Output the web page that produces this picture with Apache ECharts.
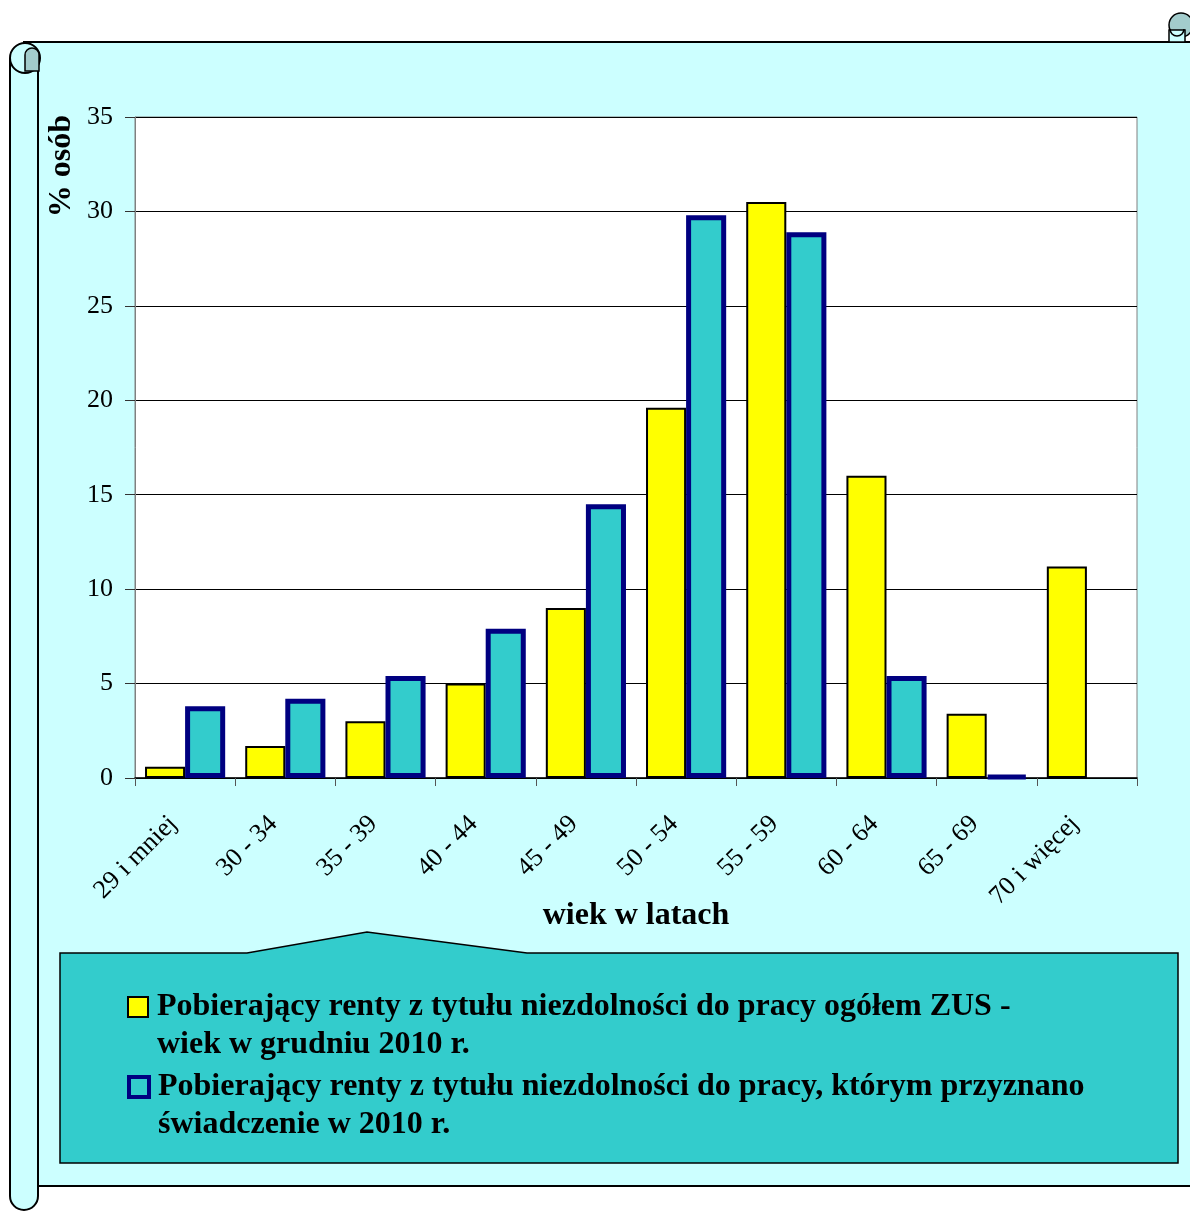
<!DOCTYPE html>
<html>
<head>
<meta charset="utf-8">
<script src="https://cdn.jsdelivr.net/npm/echarts@6/dist/echarts.min.js"></script>
<style>
html,body{margin:0;padding:0;background:#fff;}
#chart{width:1190px;height:1212px;}
</style>
</head>
<body>
<div id="chart"></div>
<script>
// ---- data ----
const categories = ['29 i mniej', '30 - 34', '35 - 39', '40 - 44', '45 - 49', '50 - 54', '55 - 59', '60 - 64', '65 - 69', '70 i więcej'];
const totalZusValues = [0.6, 1.7, 3.0, 5.0, 9.0, 19.6, 30.5, 16.0, 3.4, 11.2];
const granted2010Values = [3.8, 4.2, 5.4, 7.9, 14.5, 29.8, 28.9, 5.4, 0.1, null];
const yTicks = [0, 5, 10, 15, 20, 25, 30, 35];
const legendLines1 = ['Pobierający renty z tytułu niezdolności do pracy ogółem ZUS -', 'wiek w grudniu 2010 r.'];
const legendLines2 = ['Pobierający renty z tytułu niezdolności do pracy, którym przyznano', 'świadczenie w 2010 r.'];
const xAxisTitle = 'wiek w latach';
const yAxisTitle = '% osób';

const seriesName1 = legendLines1.join(' ');
const seriesName2 = legendLines2.join(' ');
const FONT = '"Liberation Serif", "Times New Roman", serif';

const chart = echarts.init(document.getElementById('chart'), null, {renderer: 'canvas'});

const legendCommon = {
  orient: 'vertical',
  left: 127,
  padding: 0,
  icon: 'rect',
  itemWidth: 20,
  itemHeight: 20,
  selectedMode: false,
  textStyle: {
    fontFamily: FONT,
    fontSize: 32,
    fontWeight: 'bold',
    color: '#000',
    lineHeight: 38,
    padding: [0, 0, 0, 4]
  }
};

const option = {
  animation: false,
  backgroundColor: '#ffffff',
  graphic: [
    // scroll body
    {type: 'rect', z: -30, silent: true, shape: {x: 24, y: 42, width: 1180, height: 1144},
      style: {fill: '#CCFFFF', stroke: '#000', lineWidth: 2}},
    // left roll tube
    {type: 'rect', z: -29, silent: true, shape: {x: 10, y: 58, width: 28, height: 1152, r: [0, 0, 14, 14]},
      style: {fill: '#CCFFFF', stroke: '#000', lineWidth: 2}},
    {type: 'circle', z: -28, silent: true, shape: {cx: 25, cy: 58, r: 15},
      style: {fill: '#CCFFFF', stroke: '#000', lineWidth: 2}},
    {type: 'rect', z: -27, silent: true, shape: {x: 25, y: 48, width: 14, height: 23, r: [7, 7, 0, 0]},
      style: {fill: '#A3CCCC', stroke: '#000', lineWidth: 1.5}},
    // top-right curl
    {type: 'circle', z: -27, silent: true, shape: {cx: 1181, cy: 25, r: 12},
      style: {fill: '#A3CCCC', stroke: '#000', lineWidth: 1.5}},
    {type: 'rect', z: -26, silent: true, shape: {x: 1169, y: 30, width: 16, height: 12},
      style: {fill: '#CCFFFF', stroke: '#000', lineWidth: 1.5}},
    {type: 'arc', z: -25, silent: true, shape: {cx: 1177, cy: 29, r: 7, startAngle: 0, endAngle: Math.PI, clockwise: true},
      style: {fill: 'none', stroke: '#000', lineWidth: 1.5}},
    // legend box with pointer
    {type: 'polygon', z: 1, silent: true,
      shape: {points: [[60, 953], [247, 953], [367, 932], [527, 953], [1178, 953], [1178, 1163], [60, 1163]]},
      style: {fill: '#33CCCC', stroke: '#000', lineWidth: 1.5}},
    // y axis title
    {type: 'text', z: 5, silent: true, x: 62, y: 166, rotation: Math.PI / 2,
      style: {text: yAxisTitle, font: 'bold 32px ' + FONT, fill: '#000', align: 'center', verticalAlign: 'middle'}}
  ],
  legend: [
    Object.assign({}, legendCommon, {
      top: 950,
      data: [{name: seriesName1, itemStyle: {color: '#FFFF00', borderColor: '#000', borderWidth: 2}}],
      formatter: function () { return '\n' + legendLines1.join('\n'); }
    }),
    Object.assign({}, legendCommon, {
      top: 1030,
      data: [{name: seriesName2, itemStyle: {color: '#33CCCC', borderColor: '#000080', borderWidth: 4}}],
      formatter: function () { return '\n' + legendLines2.join('\n'); }
    })
  ],
  grid: {
    left: 135, right: 53, top: 117, bottom: 434,
    show: true, backgroundColor: '#ffffff', borderColor: '#808080', borderWidth: 1
  },
  xAxis: {
    type: 'category',
    data: categories,
    name: xAxisTitle,
    nameLocation: 'middle',
    nameGap: 122,
    nameMoveOverlap: false,
    nameTextStyle: {fontFamily: FONT, fontSize: 32, fontWeight: 'bold', color: '#000'},
    axisLine: {show: true, lineStyle: {color: '#000', width: 1.5}},
    axisTick: {show: true, interval: 0, length: 8, alignWithLabel: false, lineStyle: {color: '#555'}},
    axisLabel: {interval: 0, rotate: 45, margin: 30, padding: [0, 17, 0, 0], fontFamily: FONT, fontSize: 26, color: '#000'},
    splitLine: {show: false}
  },
  yAxis: {
    type: 'value',
    min: 0, max: 35, interval: 5,
    axisLine: {show: true, lineStyle: {color: '#808080', width: 1}},
    axisTick: {show: true, length: 10, lineStyle: {color: '#333'}},
    axisLabel: {margin: 22, fontFamily: FONT, fontSize: 26, color: '#000',
      formatter: function (v) { return yTicks.indexOf(v) >= 0 ? String(v) : ''; }},
    splitLine: {show: true, lineStyle: {color: '#000', width: 1}}
  },
  series: [
    {
      name: seriesName1, type: 'bar', data: totalZusValues,
      barWidth: '40%', barGap: '0%',
      itemStyle: {color: '#FFFF00', borderColor: '#000', borderWidth: 2}
    },
    {
      name: seriesName2, type: 'bar', data: granted2010Values,
      barWidth: '40%', barGap: '0%',
      itemStyle: {color: '#33CCCC', borderColor: '#000080', borderWidth: 5}
    }
  ]
};
chart.setOption(option);
</script>
</body>
</html>
